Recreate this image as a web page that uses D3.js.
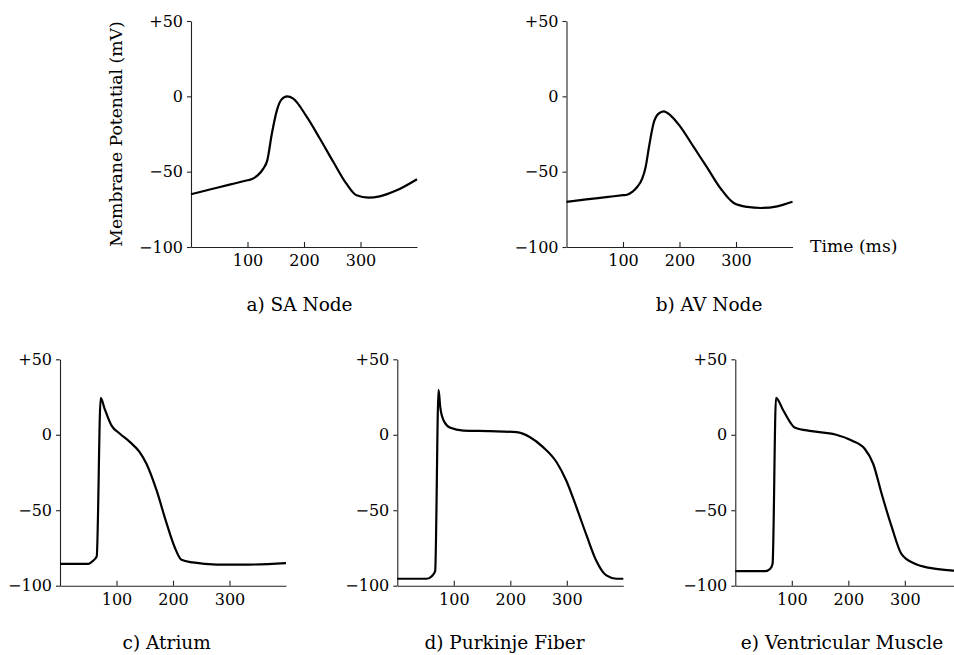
<!DOCTYPE html>
<html>
<head>
<meta charset="utf-8">
<script src="https://cdn.jsdelivr.net/npm/d3@7"></script>
<style>
  html, body { margin: 0; padding: 0; background: #fff; }
  svg { display: block; }
  text { font-family: "DejaVu Serif", serif; fill: #000; }
</style>
</head>
<body>
<svg id="chart" width="954" height="655"></svg>
<script>
// ---- data (time in ms, membrane potential in mV) ----
const yTickValues = [-100, -50, 0, 50];
const yTickLabels = ["\u2212100", "\u221250", "0", "+50"];
const xTickValues = [100, 200, 300];
const xTickLabels = ["100", "200", "300"];

const saTime = [0,35,70,100,107,118,128,135,143,152,160,170,181,205,228,252,275,293,314,334,364,400];
const saVolt = [-65,-61.7,-58.4,-55.7,-55,-52.5,-48,-42.5,-25,-9.3,-2.2,0,-1.5,-13.7,-28,-43.6,-58,-65.7,-67.2,-66.4,-62.4,-55];

const avTime = [0,35,70,100,107,117,125,134,140,146,154,163,172,184,202,225,249,273,296,320,344,373,400];
const avVolt = [-70,-68.4,-66.9,-65.6,-65.3,-63.3,-60.2,-54.6,-47,-33.6,-18,-11.5,-10,-12.6,-20.4,-33.6,-47.3,-61.3,-70.8,-73.4,-74.1,-73,-70];

const atTime = [0,50,59,65,72,79,91,106,124,141,153,171,188,203,215,235,277,335,400];
const atVolt = [-85.5,-85.5,-83.3,-80.6,24.5,17.2,6.2,0.7,-4.9,-11.5,-19.2,-36.9,-57.9,-74.5,-82.8,-84.6,-86,-86,-85];

const pkTime = [0,52,61,67,73,76,82,94,117,164,211,235,258,282,299,317,335,352,370,388,400];
const pkVolt = [-95.4,-95.4,-93.7,-90.4,29.8,18.3,9.5,4.6,2.8,2.4,1.7,-1.6,-8.2,-18.2,-30.3,-48,-66.7,-83.3,-93.2,-95.4,-95.4];

const vmTime = [0,53,62,66,72,85,106,135,177,206,229,244,259,277,294,318,347,385,400];
const vmVolt = [-90.4,-90.4,-88.8,-85.5,24.5,16.1,4.6,2.4,0.2,-3.8,-9.3,-19.2,-39.1,-61.2,-78.9,-85.5,-88.4,-90,-90.5];

const titles = ["a) SA Node", "b) AV Node", "c) Atrium", "d) Purkinje Fiber", "e) Ventricular Muscle"];

// ---- layout ----
const panels = [
  { t: saTime, v: saVolt, x0: 191,   yTop: 21,    yBot: 247,   title: titles[0], tx: 299.5, ty: 311, ylabel: true },
  { t: avTime, v: avVolt, x0: 566.5, yTop: 21,    yBot: 247,   title: titles[1], tx: 709,   ty: 311, xlabel: true },
  { t: atTime, v: atVolt, x0: 60,    yTop: 359.3, yBot: 585.7, title: titles[2], tx: 166.7, ty: 649 },
  { t: pkTime, v: pkVolt, x0: 397.3, yTop: 359.3, yBot: 585.7, title: titles[3], tx: 504.5, ty: 649 },
  { t: vmTime, v: vmVolt, x0: 735.3, yTop: 359.3, yBot: 585.7, title: titles[4], tx: 842,   ty: 649 }
];
const plotW = 226;

const svg = d3.select("#chart");

panels.forEach(p => {
  const x = d3.scaleLinear().domain([0, 400]).range([p.x0, p.x0 + plotW]);
  const y = d3.scaleLinear().domain([-100, 50]).range([p.yBot, p.yTop]);
  const g = svg.append("g");

  const yAxis = d3.axisLeft(y)
    .tickValues(yTickValues)
    .tickFormat((d, i) => yTickLabels[i])
    .tickSizeInner(4).tickSizeOuter(0).tickPadding(4);
  const ya = g.append("g").attr("transform", `translate(${p.x0},0)`).call(yAxis);

  const xAxis = d3.axisBottom(x)
    .tickValues(xTickValues)
    .tickFormat((d, i) => xTickLabels[i])
    .tickSizeInner(-5).tickSizeOuter(0).tickPadding(8);
  const xa = g.append("g").attr("transform", `translate(0,${p.yBot})`).call(xAxis);

  [ya, xa].forEach(a => {
    a.selectAll("path.domain").attr("stroke", "#222").attr("stroke-width", 1.1);
    a.selectAll(".tick line").attr("stroke", "#222").attr("stroke-width", 1.1);
    a.selectAll("text").attr("font-family", "DejaVu Serif").attr("font-size", 16).attr("fill", "#000");
  });

  const pts = p.t.map((t, i) => [t, p.v[i]]);
  const line = d3.line().x(d => x(d[0])).y(d => y(d[1])).curve(d3.curveMonotoneX);
  g.append("path").attr("d", line(pts))
    .attr("fill", "none").attr("stroke", "#000").attr("stroke-width", 2.2)
    .attr("stroke-linejoin", "round");

  g.append("text").attr("x", p.tx).attr("y", p.ty)
    .attr("text-anchor", "middle").attr("font-size", 18.5).text(p.title);

  if (p.ylabel) {
    g.append("text")
      .attr("transform", `translate(122,${(p.yTop + p.yBot) / 2}) rotate(-90)`)
      .attr("text-anchor", "middle").attr("font-size", 17.2)
      .text("Membrane Potential (mV)");
  }
  if (p.xlabel) {
    g.append("text").attr("x", 810).attr("y", 252)
      .attr("font-size", 17.2).text("Time (ms)");
  }
});
</script>
</body>
</html>
